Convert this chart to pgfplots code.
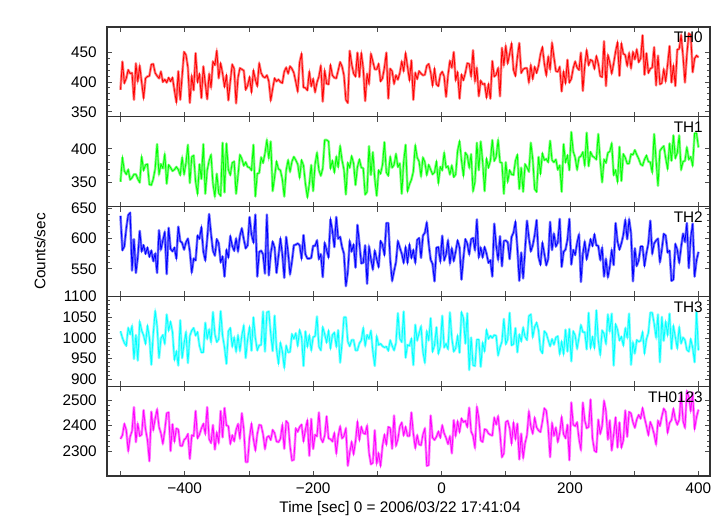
\documentclass[border=0pt]{standalone}
\usepackage{fontspec}
\setmainfont{Liberation Sans}
\usepackage{pgfplots}
\usepackage{pgfplotstable}
\pgfplotsset{compat=1.18}
\usepgfplotslibrary{groupplots}
\usetikzlibrary{calc}
\definecolor{cRed}{rgb}{1,0,0}
\definecolor{cGreen}{rgb}{0,1,0}
\definecolor{cBlue}{rgb}{0,0,1}
\definecolor{cCyan}{rgb}{0,1,1}
\definecolor{cMag}{rgb}{1,0,1}
\definecolor{lRed}{rgb}{1,0.5,0.5}
\definecolor{lGreen}{rgb}{0.5,1,0.5}
\definecolor{lBlue}{rgb}{0.45,0.45,1}
\definecolor{lCyan}{rgb}{0.5,1,1}
\definecolor{lMag}{rgb}{1,0.5,1}
\pgfplotstableread{
t a b c d e
-500 387 351 638 1016 2348
-497 434 387 581 1000 2362
-494 398 367 587 988 2407
-491 406 362 617 981 2383
-488 420 369 639 1024 2300
-485 414 354 643 1009 2356
-482 415 357 547 1029 2379
-479 370 362 599 949 2473
-476 431 362 543 1007 2335
-473 401 355 570 945 2407
-470 427 350 613 1039 2359
-467 399 388 579 1018 2365
-464 373 368 589 1006 2461
-461 406 376 575 986 2386
-458 409 377 585 1029 2344
-455 410 347 570 1001 2260
-452 429 346 580 935 2455
-449 430 355 563 1009 2383
-446 415 370 575 1065 2427
-443 410 407 543 1029 2464
-440 406 362 614 951 2395
-437 417 377 582 999 2370
-434 400 371 597 1007 2329
-431 404 392 611 986 2382
-428 399 348 541 1057 2449
-425 407 376 618 1018 2452
-422 401 372 583 1039 2300
-419 407 367 579 1014 2406
-416 386 369 585 947 2338
-413 366 373 567 967 2389
-410 418 369 620 933 2385
-407 370 361 596 1043 2321
-404 410 387 593 951 2320
-401 450 362 582 986 2344
-398 445 379 594 1014 2351
-395 424 406 600 939 2367
-392 365 349 579 1005 2269
-389 410 388 544 1018 2362
-386 386 390 567 1024 2359
-383 448 351 564 1006 2458
-380 400 333 605 1014 2351
-377 413 377 600 981 2365
-374 373 355 619 965 2389
-371 426 407 579 965 2407
-368 398 333 564 1037 2368
-365 371 368 599 998 2473
-362 413 382 641 1020 2348
-359 391 391 608 990 2332
-356 434 348 580 1063 2403
-353 428 329 572 1009 2306
-350 452 363 599 990 2373
-347 406 334 592 997 2333
-344 431 330 561 1065 2458
-341 414 409 570 1005 2354
-338 392 335 537 977 2470
-335 411 408 581 937 2401
-332 369 369 569 1016 2398
-329 401 361 604 1024 2329
-326 429 379 588 979 2362
-323 422 381 580 1001 2339
-320 364 333 600 967 2383
-317 407 360 579 1006 2406
-314 423 391 605 969 2350
-311 421 385 617 1006 2449
-308 419 375 599 1030 2386
-305 387 380 584 951 2257
-302 394 373 589 997 2257
-299 408 372 636 1026 2354
-296 383 368 607 969 2407
-293 419 406 594 1050 2348
-290 404 329 640 1000 2303
-287 393 363 537 970 2367
-284 431 364 578 982 2403
-281 415 387 580 983 2401
-278 409 379 574 1064 2367
-275 407 393 542 967 2309
-272 411 413 640 1062 2354
-269 401 386 539 1064 2359
-266 369 411 575 1009 2344
-263 389 337 595 968 2383
-260 406 358 585 1054 2371
-257 401 381 543 973 2338
-254 404 370 571 938 2335
-251 400 368 600 988 2348
-248 398 355 575 968 2403
-245 417 329 535 928 2309
-242 424 368 603 981 2418
-239 414 383 577 965 2409
-236 426 366 541 966 2321
-233 422 381 562 1009 2263
-230 415 388 589 998 2266
-227 400 383 590 1011 2389
-224 384 377 592 981 2376
-221 433 357 589 1019 2395
-218 447 383 567 1002 2404
-215 391 375 606 932 2339
-212 390 348 574 1016 2385
-209 386 328 567 979 2421
-206 417 347 567 1006 2281
-203 393 376 568 970 2427
-200 405 337 588 1002 2308
-197 383 377 588 1004 2364
-194 399 394 597 1052 2358
-191 409 368 566 979 2452
-188 427 360 574 970 2350
-185 367 371 536 1026 2335
-182 419 413 593 1009 2361
-179 397 413 581 989 2437
-176 396 411 569 1017 2350
-173 428 371 632 975 2347
-170 411 382 613 1007 2338
-167 407 365 586 1013 2371
-164 406 388 636 979 2291
-161 419 373 600 1019 2359
-158 433 404 603 940 2397
-155 426 383 586 987 2350
-152 411 369 575 1050 2359
-149 370 332 521 1050 2389
-146 365 379 545 991 2242
-143 452 372 596 980 2294
-140 430 389 579 995 2336
-137 414 378 590 995 2288
-134 409 346 552 970 2338
-131 449 373 623 970 2415
-128 408 384 592 987 2344
-125 448 372 559 994 2395
-122 423 371 560 1024 2371
-119 368 332 589 981 2367
-116 413 336 525 1007 2400
-113 397 404 587 998 2294
-110 447 361 566 1017 2248
-107 434 395 549 967 2254
-104 421 355 580 932 2382
-101 421 330 566 1004 2251
-98 430 368 553 983 2291
-95 401 363 596 986 2242
-92 406 376 590 980 2320
-89 424 410 573 977 2364
-86 449 365 626 979 2326
-83 372 360 626 969 2395
-80 422 388 565 994 2391
-77 418 372 530 981 2309
-74 397 376 546 970 2440
-71 411 392 561 988 2321
-68 404 373 596 1060 2347
-65 415 378 585 998 2397
-62 434 333 575 990 2412
-59 418 381 560 1064 2362
-56 448 406 586 952 2395
-53 425 337 560 983 2359
-50 403 347 590 981 2359
-47 436 354 568 998 2452
-44 370 366 581 934 2370
-41 415 405 560 1032 2312
-38 405 387 598 994 2362
-35 418 381 601 1011 2326
-32 414 359 568 1028 2323
-29 411 387 605 966 2365
-26 412 380 610 940 2389
-23 427 361 627 1016 2242
-20 430 376 591 995 2245
-17 416 369 565 1048 2440
-14 394 362 558 967 2353
-11 422 365 529 982 2344
-8 396 381 585 1026 2356
-5 393 349 586 962 2377
-2 412 373 562 979 2353
1 417 368 605 1054 2401
4 409 394 564 977 2370
7 375 372 574 986 2352
10 411 374 597 973 2328
13 435 362 559 1062 2358
16 424 375 584 999 2291
19 450 358 563 967 2422
22 403 362 579 975 2360
25 416 397 597 1005 2417
28 372 411 585 964 2375
31 412 383 532 1062 2428
34 403 360 568 1048 2414
37 415 394 599 986 2419
40 431 390 592 1060 2395
43 430 372 574 922 2471
46 409 392 599 1001 2377
49 453 337 601 934 2360
52 401 351 581 932 2313
55 423 409 632 996 2474
58 376 368 569 996 2428
61 402 411 585 930 2342
64 396 380 569 988 2336
67 397 337 586 968 2386
70 374 385 575 1019 2383
73 396 372 560 998 2369
76 372 382 564 1005 2364
79 435 413 537 1000 2361
82 409 382 625 1007 2431
85 412 388 589 1005 2405
88 423 413 565 958 2437
91 376 380 604 977 2369
94 457 379 554 991 2276
97 428 333 596 1046 2291
100 460 380 597 985 2414
103 431 351 594 997 2419
106 447 368 566 1061 2390
109 464 362 603 982 2330
112 420 361 610 985 2411
115 410 382 628 1024 2348
118 441 391 585 965 2408
121 465 340 530 1008 2267
124 415 372 577 992 2369
127 421 336 534 1025 2273
130 423 377 581 1003 2331
133 423 372 630 995 2363
136 399 366 601 1053 2456
139 428 409 579 1057 2396
142 405 384 589 1002 2369
145 425 340 606 1027 2431
148 415 336 631 1037 2393
151 427 388 570 1018 2381
154 446 363 557 971 2375
157 458 393 593 963 2416
160 431 383 575 1016 2468
163 411 385 556 1011 2459
166 442 380 566 995 2393
169 421 412 628 980 2276
172 465 383 581 997 2410
175 441 380 608 984 2361
178 418 384 587 1001 2392
181 417 369 594 1004 2336
184 425 375 633 961 2372
187 384 336 553 991 2434
190 417 407 578 961 2366
193 398 380 582 1020 2351
196 437 390 598 967 2404
199 399 368 633 1022 2264
202 405 425 557 943 2491
205 423 396 581 1016 2404
208 434 387 573 1006 2398
211 424 369 593 974 2413
214 420 387 607 1001 2348
217 449 389 528 1031 2305
220 385 395 575 1014 2491
223 428 375 595 1014 2421
226 453 424 566 972 2390
229 428 374 582 1061 2395
232 437 395 599 976 2503
235 435 389 588 1002 2351
238 422 387 607 976 2302
241 443 384 589 1067 2296
244 431 422 588 995 2424
247 410 382 565 959 2368
250 408 350 585 1018 2398
253 468 384 537 1010 2497
256 393 379 566 986 2457
259 445 394 536 1057 2345
262 432 396 554 1016 2421
265 414 408 581 1059 2302
268 431 361 556 933 2366
271 451 368 626 1033 2433
274 466 351 595 1020 2314
277 410 403 582 994 2413
280 464 352 592 1003 2314
283 447 392 606 982 2342
286 445 387 631 1023 2460
289 427 378 599 1001 2356
292 448 378 632 1059 2454
295 423 392 609 935 2448
298 450 391 529 989 2413
301 438 398 584 963 2392
304 454 391 555 995 2425
307 433 385 564 991 2442
310 439 377 587 993 2428
313 478 375 587 1014 2469
316 412 384 555 963 2431
319 448 390 576 997 2399
322 415 381 592 1012 2363
325 422 380 630 1061 2414
328 424 365 575 1061 2395
331 458 422 592 1035 2366
334 394 384 597 1001 2326
337 444 345 600 1057 2419
340 396 397 561 941 2399
343 398 401 582 1051 2436
346 421 404 608 993 2467
349 401 386 605 1039 2454
352 429 370 577 1007 2372
355 460 408 580 1059 2411
358 399 382 530 973 2422
361 427 420 532 1029 2466
364 393 386 591 1002 2425
367 454 394 582 975 2404
370 455 420 560 1026 2423
373 478 369 586 987 2527
376 443 381 608 1001 2419
379 399 382 595 995 2392
382 446 402 626 971 2536
385 481 384 551 967 2512
388 478 388 602 997 2458
391 416 375 625 976 2530
394 439 423 537 941 2387
397 444 423 564 1063 2433
400 441 402 578 970 2463
}\data
\begin{document}
\fontsize{11.5pt}{13.8pt}\selectfont
\begin{tikzpicture}
\begin{groupplot}[
  group style={group name=g, group size=1 by 5, vertical sep=0pt},
  scale only axis, width=452.25pt, height=67.35pt,
  xmin=-521, xmax=418,
  xtick={-500,-400,-300,-200,-100,0,100,200,300,400},
  xticklabels={},
  tick align=inside, xtick pos=both, ytick pos=both,
  minor y tick num=4,
  major tick length=3.75pt, minor tick length=2.25pt,
  axis line style={black!80, line width=0.8pt},
  every tick/.style={black!70, line width=0.6pt},
  tick label style={font=\fontsize{11.5pt}{13.8pt}\selectfont},
  /pgf/number format/assume math mode=true,
  /pgf/number format/1000 sep={},
  scaled y ticks=false,
  yticklabel style={inner sep=0pt, xshift=-7.5pt},
  xticklabel style={inner sep=0pt, yshift=-5pt},
]
\nextgroupplot[ymin=341.7, ymax=491.7, ytick={350,400,450}]
\addplot[lRed, line width=1.9pt, line join=round, forget plot] table[x=t, y=a] {\data};
\addplot[cRed, line width=0.6pt] table[x=t, y=a] {\data};
\node[anchor=north east, inner sep=0pt] at ([xshift=-5.25pt, yshift=-3.75pt]rel axis cs:1,1) {TH0};
\node[anchor=base west, inner sep=0pt] at ([xshift=0.75pt, yshift=5.25pt]rel axis cs:0,1) {ae501005010\_20060322174104\_wam3\_trn\_4band\_long.qdp};
\nextgroupplot[ymin=314, ymax=447.5, ytick={350,400}]
\addplot[lGreen, line width=1.9pt, line join=round, forget plot] table[x=t, y=b] {\data};
\addplot[cGreen, line width=0.6pt] table[x=t, y=b] {\data};
\node[anchor=north east, inner sep=0pt] at ([xshift=-5.25pt, yshift=-3.75pt]rel axis cs:1,1) {TH1};
\nextgroupplot[ymin=504, ymax=653.3, ytick={550,600,650}]
\addplot[lBlue, line width=1.9pt, line join=round, forget plot] table[x=t, y=c] {\data};
\addplot[cBlue, line width=0.6pt] table[x=t, y=c] {\data};
\node[anchor=north east, inner sep=0pt] at ([xshift=-5.25pt, yshift=-3.75pt]rel axis cs:1,1) {TH2};
\nextgroupplot[ymin=883, ymax=1100.5, ytick={900,950,1000,1050,1100}]
\addplot[lCyan, line width=1.9pt, line join=round, forget plot] table[x=t, y=d] {\data};
\addplot[cCyan, line width=0.6pt] table[x=t, y=d] {\data};
\node[anchor=north east, inner sep=0pt] at ([xshift=-5.25pt, yshift=-3.75pt]rel axis cs:1,1) {TH3};
\nextgroupplot[ymin=2202, ymax=2555, ytick={2300,2400,2500},
  xticklabels={,−400,,−200,,0,,200,,400}]
\addplot[lMag, line width=1.9pt, line join=round, forget plot] table[x=t, y=e] {\data};
\addplot[cMag, line width=0.6pt] table[x=t, y=e] {\data};
\node[anchor=north east, inner sep=0pt] at ([xshift=-5.25pt, yshift=-3.75pt]rel axis cs:1,1) {TH0123};
\end{groupplot}
\node[anchor=base] at ($(g c1r5.south west)+(219.75pt,-27pt)$) {Time [sec] 0 = 2006/03/22 17:41:04};
\node[rotate=90, anchor=center] at ($(g c1r3.west)+(-50.25pt,0)$) {Counts/sec};
\pgfresetboundingbox
\path[use as bounding box] ($(g c1r5.south west)+(-80.25pt,-30pt)$) rectangle ($(g c1r1.north west)+(462pt,20.25pt)$);
\end{tikzpicture}
\end{document}
